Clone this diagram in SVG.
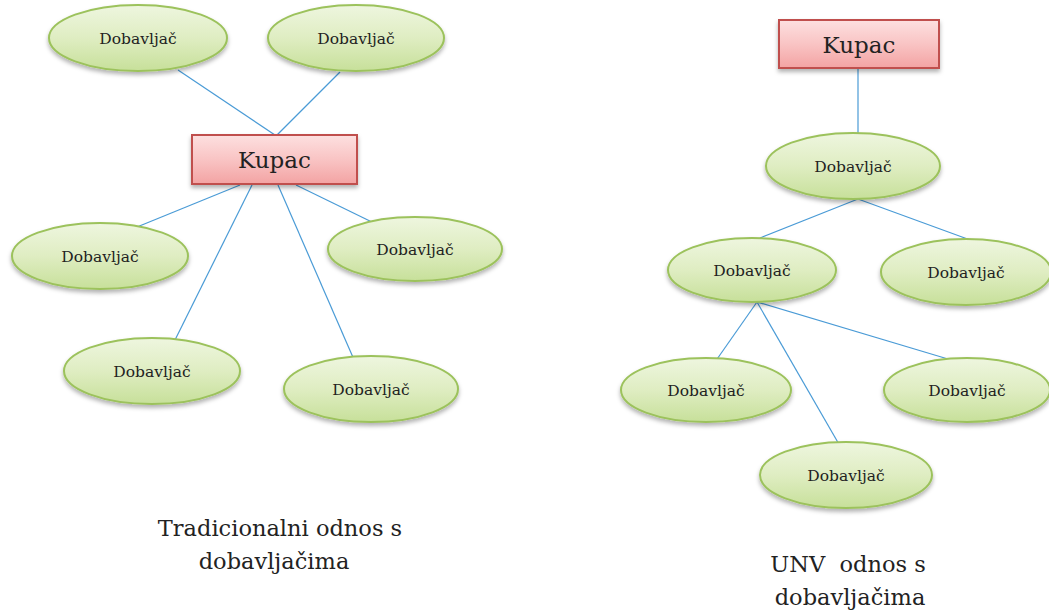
<svg xmlns="http://www.w3.org/2000/svg" width="1049" height="614" viewBox="0 0 1049 614">
<defs>
<linearGradient id="gG" x1="0" y1="0" x2="0" y2="1"><stop offset="0" stop-color="#eef6df"/><stop offset="0.5" stop-color="#dfedc2"/><stop offset="1" stop-color="#c7e09a"/></linearGradient>
<linearGradient id="gR" x1="0" y1="0" x2="0" y2="1"><stop offset="0" stop-color="#fde0e0"/><stop offset="0.5" stop-color="#f9c4c4"/><stop offset="1" stop-color="#f3a3a3"/></linearGradient>
<filter id="sh" x="-20%" y="-20%" width="140%" height="150%"><feDropShadow dx="0" dy="3" stdDeviation="2" flood-color="#000" flood-opacity="0.3"/></filter>
</defs>
<style>
.e{fill:url(#gG);stroke:#9cc25c;stroke-width:2;filter:url(#sh)}
.r{fill:url(#gR);stroke:#c0504d;stroke-width:2;filter:url(#sh)}
.c line{stroke:#4a9bd6;stroke-width:1.2}
text{font-family:"DejaVu Serif","Liberation Serif",serif;fill:#222;text-anchor:middle}
.t{font-size:15.5px}
.k{font-size:23px}
.cap{font-size:22.5px;white-space:pre}
</style>
<rect width="1049" height="614" fill="#fff"/>
<g class="c" id="connectors">
<line x1="178" y1="70" x2="275" y2="135"/>
<line x1="340" y1="72" x2="277" y2="135"/>
<line x1="240" y1="185" x2="137" y2="227"/>
<line x1="252" y1="185" x2="175" y2="340"/>
<line x1="278" y1="185" x2="355" y2="362"/>
<line x1="296" y1="185" x2="376" y2="224"/>
<line x1="858" y1="68" x2="858" y2="133"/>
<line x1="858" y1="199" x2="760" y2="238"/>
<line x1="858" y1="199" x2="973" y2="241"/>
<line x1="757" y1="302" x2="715" y2="362"/>
<line x1="757" y1="302" x2="840" y2="446"/>
<line x1="757" y1="302" x2="958" y2="362"/>
</g>
<g id="d1"><ellipse class="e" cx="138" cy="38" rx="89" ry="33"/><text class="t" x="138" y="44">Dobavljač</text></g>
<g id="d2"><ellipse class="e" cx="356" cy="38" rx="88" ry="33"/><text class="t" x="356" y="44">Dobavljač</text></g>
<g id="kupac1"><rect class="r" x="192" y="135" width="165" height="49"/><text class="k" x="274.5" y="168">Kupac</text></g>
<g id="d3"><ellipse class="e" cx="100" cy="256" rx="88" ry="33"/><text class="t" x="100" y="262">Dobavljač</text></g>
<g id="d4"><ellipse class="e" cx="415" cy="249" rx="87" ry="32"/><text class="t" x="415" y="255">Dobavljač</text></g>
<g id="d5"><ellipse class="e" cx="152" cy="371" rx="88" ry="33"/><text class="t" x="152" y="377">Dobavljač</text></g>
<g id="d6"><ellipse class="e" cx="371" cy="389" rx="87" ry="33"/><text class="t" x="371" y="395">Dobavljač</text></g>
<g id="kupac2"><rect class="r" x="779" y="20" width="160" height="48"/><text class="k" x="859" y="53">Kupac</text></g>
<g id="d7"><ellipse class="e" cx="853" cy="166" rx="87" ry="33"/><text class="t" x="853" y="172">Dobavljač</text></g>
<g id="d8"><ellipse class="e" cx="752" cy="270" rx="84" ry="32"/><text class="t" x="752" y="276">Dobavljač</text></g>
<g id="d9"><ellipse class="e" cx="966" cy="272" rx="85" ry="33"/><text class="t" x="966" y="278">Dobavljač</text></g>
<g id="d10"><ellipse class="e" cx="706" cy="390" rx="85" ry="32"/><text class="t" x="706" y="396">Dobavljač</text></g>
<g id="d11"><ellipse class="e" cx="967" cy="390" rx="83" ry="32"/><text class="t" x="967" y="396">Dobavljač</text></g>
<g id="d12"><ellipse class="e" cx="846" cy="475" rx="86" ry="33"/><text class="t" x="846" y="481">Dobavljač</text></g>
<g id="cap1"><text class="cap" x="280" y="536">Tradicionalni odnos s</text><text class="cap" x="274" y="569">dobavljačima</text></g>
<g id="cap2"><text class="cap" x="848" y="572">UNV  odnos s</text><text class="cap" x="850" y="605">dobavljačima</text></g>
</svg>
